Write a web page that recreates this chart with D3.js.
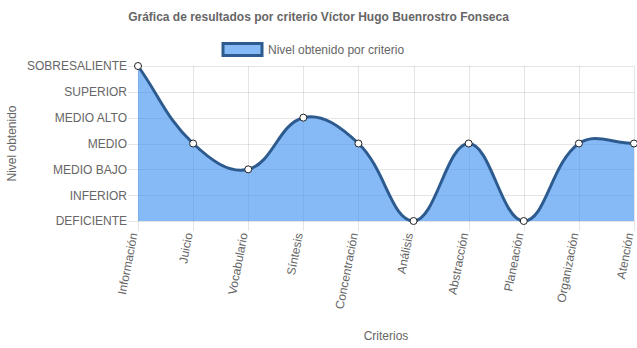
<!DOCTYPE html>
<html>
<head>
<meta charset="utf-8">
<script src="https://cdn.jsdelivr.net/npm/d3@7"></script>
<style>
  html, body { margin: 0; padding: 0; background: #fff; }
  svg { display: block; font-family: "Liberation Sans", Arial, Helvetica, sans-serif; }
</style>
</head>
<body>
<svg id="chart" width="637" height="348"></svg>
<script>
// Criterios evaluados y nivel obtenido en cada uno (índice dentro de "niveles")
const criterios = ["Información", "Juicio", "Vocabulario", "Síntesis", "Concentración",
                   "Análisis", "Abstracción", "Planeación", "Organización", "Atención"];
const niveles = ["DEFICIENTE", "INFERIOR", "MEDIO BAJO", "MEDIO", "MEDIO ALTO", "SUPERIOR", "SOBRESALIENTE"];
const nivelObtenido = [6, 3, 2, 4, 3, 0, 3, 0, 3, 3];

const titulo = "Gráfica de resultados por criterio Víctor Hugo Buenrostro Fonseca";
const leyenda = "Nivel obtenido por criterio";
const tituloY = "Nivel obtenido";
const tituloX = "Criterios";

const area = { left: 138, right: 634, top: 66, bottom: 221 };
const tick = 10;
const textColor = "#666";
const gridColor = "rgba(0,0,0,0.1)";
const lineColor = "#2d5b8f";
const fillColor = "rgba(54,140,240,0.6)";

const svg = d3.select("#chart");

const x = d3.scalePoint().domain(criterios).range([area.left, area.right]);
const y = d3.scaleLinear().domain([0, niveles.length - 1]).range([area.bottom, area.top]);

// Title
svg.append("text")
  .attr("x", 318.5).attr("y", 21)
  .attr("text-anchor", "middle")
  .attr("font-size", 12).attr("font-weight", "bold")
  .attr("fill", textColor)
  .text(titulo);

// Legend
svg.append("rect")
  .attr("x", 223).attr("y", 43.5).attr("width", 39).attr("height", 12)
  .attr("fill", fillColor).attr("stroke", lineColor).attr("stroke-width", 3);
svg.append("text")
  .attr("x", 268).attr("y", 54)
  .attr("font-size", 12).attr("fill", textColor)
  .text(leyenda);

// Grid lines (including the tick marks outside the plot area)
const grid = svg.append("g");
grid.selectAll("line.h")
  .data(d3.range(niveles.length))
  .join("line")
  .attr("x1", area.left - tick).attr("x2", area.right)
  .attr("y1", d => Math.round(y(d)) + 0.5).attr("y2", d => Math.round(y(d)) + 0.5)
  .attr("stroke", gridColor).attr("stroke-width", 1);
grid.selectAll("line.v")
  .data(criterios)
  .join("line")
  .attr("x1", d => Math.round(x(d)) + 0.5).attr("x2", d => Math.round(x(d)) + 0.5)
  .attr("y1", area.top).attr("y2", area.bottom + tick)
  .attr("stroke", gridColor).attr("stroke-width", 1);

// Y axis labels
const yAxis = d3.axisLeft(y)
  .tickValues(d3.range(niveles.length))
  .tickFormat(i => niveles[i])
  .tickSize(0).tickPadding(tick + 1);
const gy = svg.append("g").attr("transform", `translate(${area.left},0)`).call(yAxis);
gy.select(".domain").remove();
gy.selectAll("text").attr("font-size", 12).attr("fill", textColor).attr("font-family", null);

// X axis labels (rotated)
const xAxis = d3.axisBottom(x).tickSize(0).tickPadding(0);
const gx = svg.append("g").attr("transform", `translate(0,${area.bottom + tick + 2})`).call(xAxis);
gx.select(".domain").remove();
gx.selectAll("text")
  .attr("font-size", 12).attr("fill", textColor).attr("font-family", null)
  .attr("text-anchor", "end")
  .attr("y", 0).attr("dy", "0.35em")
  .attr("transform", "translate(-5,0) rotate(-79)");

// Axis titles
svg.append("text")
  .attr("transform", `translate(16,${(area.top + area.bottom) / 2}) rotate(-90)`)
  .attr("text-anchor", "middle")
  .attr("font-size", 12).attr("fill", textColor)
  .text(tituloY);
svg.append("text")
  .attr("x", (area.left + area.right) / 2).attr("y", 340)
  .attr("text-anchor", "middle")
  .attr("font-size", 12).attr("fill", textColor)
  .text(tituloX);

// Smooth line: spline control points with tension 0.4, capped to the plot area
const pts = nivelObtenido.map((v, i) => ({ x: x(criterios[i]), y: y(v) }));
const tension = 0.4;
const clampX = v => Math.max(area.left, Math.min(area.right, v));
const clampY = v => Math.max(area.top, Math.min(area.bottom, v));
pts.forEach((p, i) => {
  const prev = pts[i - 1] || p, next = pts[i + 1] || p;
  const d01 = Math.hypot(p.x - prev.x, p.y - prev.y);
  const d12 = Math.hypot(next.x - p.x, next.y - p.y);
  let s01 = d01 / (d01 + d12), s12 = d12 / (d01 + d12);
  if (isNaN(s01)) s01 = 0;
  if (isNaN(s12)) s12 = 0;
  const fa = tension * s01, fb = tension * s12;
  p.cpPrev = { x: clampX(p.x - fa * (next.x - prev.x)), y: clampY(p.y - fa * (next.y - prev.y)) };
  p.cpNext = { x: clampX(p.x + fb * (next.x - prev.x)), y: clampY(p.y + fb * (next.y - prev.y)) };
});
function splinePath(ctx) {
  ctx.moveTo(pts[0].x, pts[0].y);
  for (let i = 1; i < pts.length; i++) {
    const a = pts[i - 1], b = pts[i];
    ctx.bezierCurveTo(a.cpNext.x, a.cpNext.y, b.cpPrev.x, b.cpPrev.y, b.x, b.y);
  }
  return ctx;
}

const areaPath = splinePath(d3.path());
areaPath.lineTo(pts[pts.length - 1].x, y(0));
areaPath.lineTo(pts[0].x, y(0));
areaPath.closePath();
svg.append("path").attr("d", areaPath.toString()).attr("fill", fillColor);

svg.append("path")
  .attr("d", splinePath(d3.path()).toString())
  .attr("fill", "none").attr("stroke", lineColor).attr("stroke-width", 3);

// Points
svg.append("g").selectAll("circle")
  .data(nivelObtenido)
  .join("circle")
  .attr("cx", (d, i) => x(criterios[i]))
  .attr("cy", d => y(d))
  .attr("r", 3.5)
  .attr("fill", "#fff").attr("stroke", "#222").attr("stroke-width", 1);
</script>
</body>
</html>
